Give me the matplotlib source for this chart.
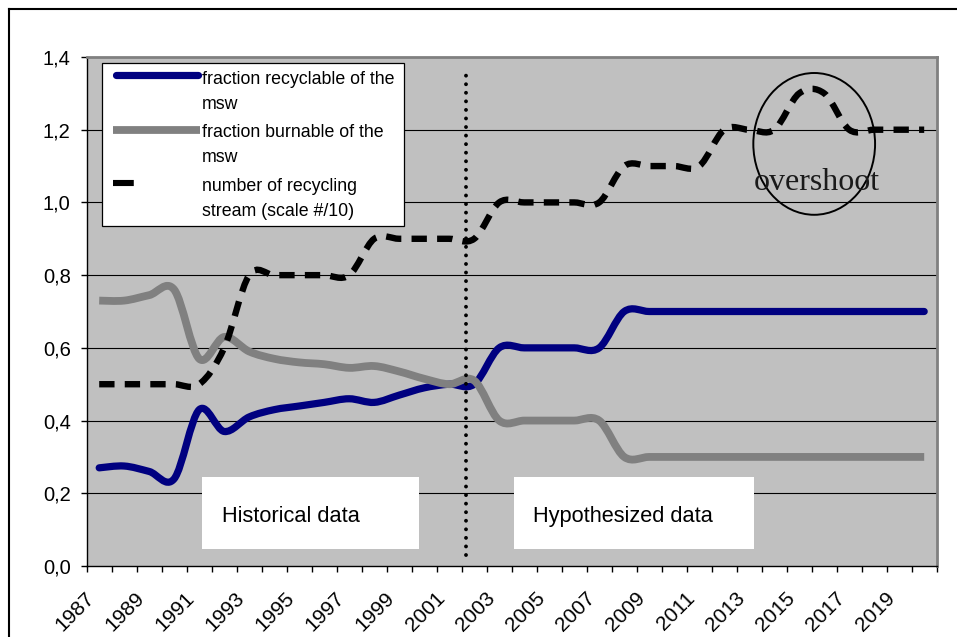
import numpy as np
import matplotlib
matplotlib.use('Agg')
import matplotlib.pyplot as plt
from matplotlib.path import Path
from matplotlib.patches import PathPatch, Rectangle, Ellipse
from matplotlib.lines import Line2D

# ---- data (one value per year) ----
years = np.arange(1987, 2021)
recyclable = [0.27, 0.275, 0.26, 0.24, 0.43, 0.37, 0.41, 0.43, 0.44, 0.45,
              0.46, 0.45, 0.47, 0.49, 0.50, 0.50, 0.60, 0.60, 0.60, 0.60,
              0.60, 0.70, 0.70, 0.70, 0.70, 0.70, 0.70, 0.70, 0.70, 0.70,
              0.70, 0.70, 0.70, 0.70]
burnable = [0.73, 0.73, 0.745, 0.76, 0.57, 0.63, 0.59, 0.57, 0.56, 0.555,
            0.545, 0.55, 0.535, 0.515, 0.50, 0.51, 0.40, 0.40, 0.40, 0.40,
            0.40, 0.30, 0.30, 0.30, 0.30, 0.30, 0.30, 0.30, 0.30, 0.30,
            0.30, 0.30, 0.30, 0.30]
streams = [0.50, 0.50, 0.50, 0.50, 0.50, 0.60, 0.80, 0.80, 0.80, 0.80,
           0.80, 0.90, 0.90, 0.90, 0.90, 0.90, 1.00, 1.00, 1.00, 1.00,
           1.00, 1.10, 1.10, 1.10, 1.10, 1.20, 1.20, 1.20, 1.30, 1.30,
           1.20, 1.20, 1.20, 1.20]

legend_lines = [["fraction recyclable of the", "msw"],
                ["fraction burnable of the", "msw"],
                ["number of recycling", "stream (scale #/10)"]]
y_ticks = [0.0, 0.2, 0.4, 0.6, 0.8, 1.0, 1.2, 1.4]
y_ticklabels = ["0,0", "0,2", "0,4", "0,6", "0,8", "1,0", "1,2", "1,4"]

plt.rcParams['font.family'] = ['Liberation Sans', 'DejaVu Sans']

W, H = 957, 637
fig = plt.figure(figsize=(W / 100, H / 100), dpi=100)

# outer chart border (cut off on the right and bottom)
fig.add_artist(Line2D([9 / W, 9 / W], [0, 1 - 9 / H], color='black', lw=1.5))
fig.add_artist(Line2D([9 / W, 1], [1 - 9 / H, 1 - 9 / H], color='black', lw=1.5))

ax = fig.add_axes([86.7 / W, 71 / H, 850 / W, 509 / H])
ax.set_facecolor('#C0C0C0')
x = np.arange(len(years))


def smooth_path(xs, ys):
    # Excel style smoothed line: cubic Bezier through every point
    pts = np.column_stack([np.asarray(xs, float), np.asarray(ys, float)])
    ext = np.vstack([pts[0], pts, pts[-1]])
    verts = [pts[0]]
    codes = [Path.MOVETO]
    for i in range(len(pts) - 1):
        p0, p1, p2, p3 = ext[i], ext[i + 1], ext[i + 2], ext[i + 3]
        verts += [p1 + (p2 - p0) / 6, p2 - (p3 - p1) / 6, p2]
        codes += [Path.CURVE4] * 3
    return Path(verts, codes)


ax.add_patch(PathPatch(smooth_path(x, recyclable), fill=False, edgecolor='#000080',
                       lw=5.2, capstyle='round', joinstyle='round', zorder=3))
ax.add_patch(PathPatch(smooth_path(x, burnable), fill=False, edgecolor='#808080',
                       lw=5.6, capstyle='butt', joinstyle='round', zorder=4))
ax.add_patch(PathPatch(smooth_path(x, streams), fill=False, edgecolor='black',
                       lw=4.6, capstyle='butt', joinstyle='miter',
                       linestyle=(0, (2.4, 1.6)), zorder=5))

ax.set_xlim(-0.5, len(years) - 0.5)
ax.set_ylim(0, 1.4)

# grid
for v in y_ticks[1:-1]:
    ax.axhline(v, color='black', lw=0.8, zorder=1)

# axes styling
for side in ['left', 'bottom']:
    ax.spines[side].set_color('black')
    ax.spines[side].set_linewidth(1.0)
for side in ['top', 'right']:
    ax.spines[side].set_color('#808080')
    ax.spines[side].set_linewidth(2.0)

ax.set_yticks(y_ticks)
ax.set_yticklabels(y_ticklabels, fontsize=14.5)
ax.tick_params(axis='y', direction='out', length=4.5, width=1, pad=7)

ax.set_xticks(np.arange(-0.5, len(years)), minor=False)
ax.set_xticklabels([])
ax.tick_params(axis='x', which='major', direction='out', length=4, width=1)
label_pos = x[::2] - 0.3
ax.set_xticks(label_pos, minor=True)
ax.set_xticklabels([str(y) for y in years[::2]], minor=True, rotation=45,
                   ha='right', va='center', rotation_mode='anchor', fontsize=15)
ax.tick_params(axis='x', which='minor', length=0, pad=21)

# divider between historical and hypothesized data
div_x = 14.68
ax.plot([div_x, div_x], [0.03, 1.367], color='black', lw=2.8,
        linestyle=(0, (0.001, 2.2)), dash_capstyle='round', zorder=6)

# text boxes
ax.add_patch(Rectangle((4.12, 0.047), 8.68, 0.198, facecolor='white',
                       edgecolor='none', zorder=2))
ax.text(4.92, 0.121, "Historical data", fontsize=15.7,
        va='baseline', ha='left', zorder=7)
ax.add_patch(Rectangle((16.6, 0.047), 9.6, 0.198, facecolor='white',
                       edgecolor='none', zorder=2))
ax.text(17.36, 0.121, "Hypothesized data", fontsize=15.7,
        va='baseline', ha='left', zorder=7)

# overshoot marker
ax.add_patch(Ellipse((28.6, 1.161), 4.87, 0.39, fill=False, edgecolor='black',
                     lw=1.4, zorder=7))
ax.text(28.7, 1.034, "overshoot", fontsize=23, family=['Liberation Serif'],
        color='#1a1a1a', ha='center', va='baseline', zorder=7)


# legend drawn by hand so the sample sits on the first text line
def axf(xp, yp):
    return ((xp - 86.7) / 850.0, (566.0 - yp) / 509.0)


lx0, ly0 = axf(102.3, 225.7)
lx1, ly1 = axf(404, 62.7)
ta = ax.transAxes
ax.add_patch(Rectangle((lx0, ly0), lx1 - lx0, ly1 - ly0, transform=ta,
                       facecolor='white', edgecolor='black', lw=0.9, zorder=8))
ax.add_line(Line2D([axf(116, 0)[0], axf(198, 0)[0]], [axf(0, 74.5)[1]] * 2,
                   transform=ta, color='#000080', lw=5.2,
                   solid_capstyle='round', zorder=9))
ax.add_line(Line2D([axf(113, 0)[0], axf(200, 0)[0]], [axf(0, 129.5)[1]] * 2,
                   transform=ta, color='#808080', lw=5.6, solid_capstyle='butt', zorder=9))
ax.add_line(Line2D([axf(113, 0)[0], axf(175, 0)[0]], [axf(0, 182.5)[1]] * 2,
                   transform=ta, color='black', lw=4.4, dash_capstyle='butt',
                   linestyle=(0, (3.4, 7.1)), zorder=9))
baselines = [[84, 109], [137, 162], [191, 216]]
for lines, bl in zip(legend_lines, baselines):
    for txt, b in zip(lines, bl):
        ax.text(axf(202, 0)[0], axf(0, b)[1], txt, transform=ta, fontsize=12.8,
                va='baseline', ha='left', zorder=10)

fig.savefig('out.png', dpi=100)
